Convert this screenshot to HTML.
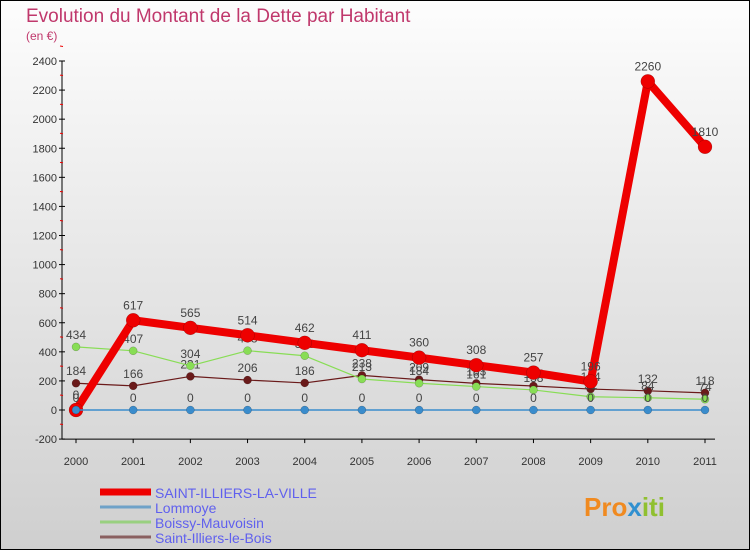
<!DOCTYPE html>
<html><head><meta charset="utf-8"><style>
html,body{margin:0;padding:0;}
body{width:750px;height:550px;overflow:hidden;font-family:"Liberation Sans",sans-serif;}
</style></head><body>
<svg id="chart" width="750" height="550" xmlns="http://www.w3.org/2000/svg">
<defs>
<linearGradient id="bg" x1="0" y1="0" x2="0" y2="1">
<stop offset="0" stop-color="#fdfdfd"/><stop offset="1" stop-color="#cfcfcf"/>
</linearGradient>
</defs>
<rect x="0" y="0" width="750" height="550" fill="url(#bg)" stroke="#000" stroke-width="2"/>
<text x="26" y="22" font-size="19" fill="#c0386c">Evolution du Montant de la Dette par Habitant</text>
<text x="26" y="40" font-size="12" fill="#c0386c">(en €)</text>
<g id="axes"></g>
<g id="series"></g>
<g id="legend"></g>
<text x="584" y="516" font-size="26" font-weight="bold" fill="#f08a20">Pro<tspan fill="#3090d0">x</tspan><tspan fill="#90c030">iti</tspan></text>
</svg>
<script>
const years = [2000,2001,2002,2003,2004,2005,2006,2007,2008,2009,2010,2011];
const yTicks = [-200,0,200,400,600,800,1000,1200,1400,1600,1800,2000,2200,2400];
const seriesNames = ["SAINT-ILLIERS-LA-VILLE","Lommoye","Boissy-Mauvoisin","Saint-Illiers-le-Bois"];
const saintIlliersVille = [0,617,565,514,462,411,360,308,257,196,2260,1810];
const lommoye = [0,0,0,0,0,0,0,0,0,0,0,0];
const boissy = [434,407,304,408,373,213,184,161,138,91,84,74];
const saintIlliersBois = [184,166,231,206,186,238,209,183,165,144,132,118];

const NS="http://www.w3.org/2000/svg";
const X0=76,X1=705,Y0=410,Ytop=61;
function xs(i){return X0+(X1-X0)*i/(years.length-1);}
function ys(v){return Y0-(Y0-Ytop)*v/2400;}
function mk(tag,attrs,parent){const e=document.createElementNS(NS,tag);for(const k in attrs)e.setAttribute(k,attrs[k]);parent.appendChild(e);return e;}
const axes=document.getElementById('axes'),ser=document.getElementById('series'),leg=document.getElementById('legend');

let l=mk('line',{x1:62,y1:ys(2400),x2:62,y2:ys(-200),stroke:'#000'},axes);


l=mk('line',{x1:62,y1:ys(-200),x2:X1+10,y2:ys(-200),stroke:'#000'},axes);


yTicks.forEach(v=>{
  const y=ys(v);
  mk('line',{x1:59,y1:y,x2:65,y2:y,stroke:'#000'},axes);
  mk('line',{x1:60,y1:y-ys(0)/1000+ (ys(100)-ys(0)),x2:63,y2:y+(ys(100)-ys(0)),stroke:'#e00'},axes);
  const t=mk('text',{x:57,y:y+4,'font-size':11,fill:'#333','text-anchor':'end'},axes);
  t.textContent=v;
  
  
});
years.forEach((yr,i)=>{
  mk('line',{x1:xs(i),y1:ys(-200),x2:xs(i),y2:ys(-200)+4,stroke:'#000'},axes);
  const t=mk('text',{x:xs(i),y:465,'font-size':11,fill:'#333','text-anchor':'middle'},axes);
  t.textContent=yr;
  
  
});

function draw(data,color,width,r,name,labelColor){
  const g=mk('g',{},ser);
  
  
  const pts=data.map((v,i)=>xs(i)+','+ys(v)).join(' ');
  mk('polyline',{points:pts,fill:'none',stroke:color,'stroke-width':width,'stroke-linejoin':'round'},g);
  data.forEach((v,i)=>{
    const c=mk('circle',{cx:xs(i),cy:ys(v),r:r,fill:color,stroke:'rgba(0,0,0,0.3)','stroke-width':0.5},g);
    
    
    const t=mk('text',{x:xs(i),y:ys(v)-r-4,'font-size':12,fill:'#444','text-anchor':'middle'},g);
    t.textContent=v;
    
    
  });
}
draw(saintIlliersBois,'#6a1a1a',1.2,4,'series-saint-illiers-le-bois');
draw(boissy,'#88dd55',1.2,4,'series-boissy-mauvoisin');
draw(saintIlliersVille,'#ee0000',8,7,'series-saint-illiers-la-ville');
draw(lommoye,'#3a8ccc',1.5,4,'series-lommoye');

const legColors=['#ee0000','#6fa2c8','#99d080','#8a6060'];
const legW=[7,3,3,3];
seriesNames.forEach((n,i)=>{
  const y=492+i*15;
  const g=mk('g',{},leg);
  
  
  mk('line',{x1:100,y1:y,x2:151,y2:y,stroke:legColors[i],'stroke-width':legW[i]},g);
  const t=mk('text',{x:155,y:y+6,'font-size':14,fill:'#6060ee'},g);
  t.textContent=n;
});
</script>
</body></html>
